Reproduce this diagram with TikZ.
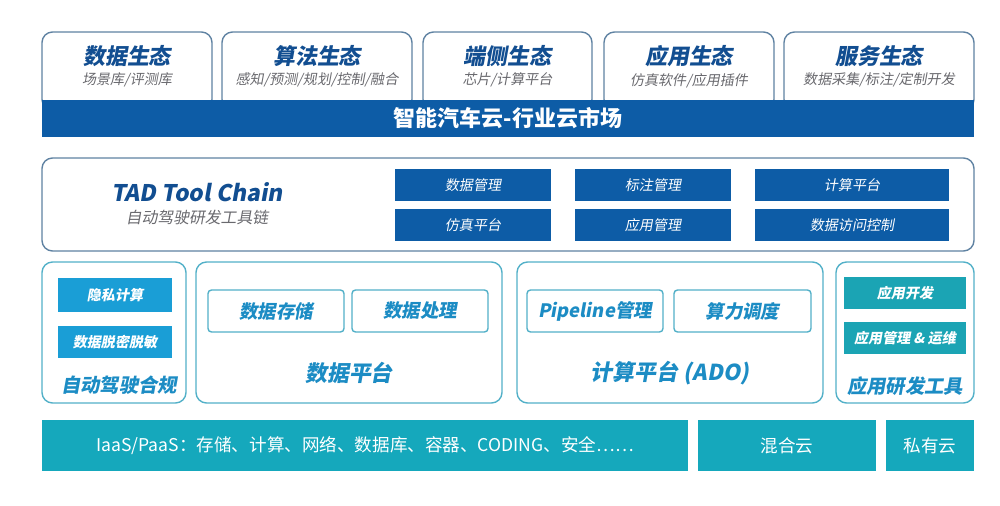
\documentclass[tikz,border=0pt]{standalone}
\usepackage{fontspec}
\setmainfont{Noto Sans CJK SC}
\newfontfamily\slantcjk{Noto Sans CJK SC}[FakeSlant=0.18]
\usepackage{xcolor}
\definecolor{navy}{RGB}{13,92,166}
\definecolor{titleblue}{RGB}{18,78,145}
\definecolor{subgray}{RGB}{105,105,110}
\definecolor{edgegray}{RGB}{95,130,162}
\definecolor{edgecyan}{RGB}{82,176,200}
\definecolor{labelcyan}{RGB}{28,140,196}
\definecolor{cyanbox}{RGB}{26,158,214}
\definecolor{tealbox}{RGB}{27,164,180}
\definecolor{basebar}{RGB}{21,168,188}
\usepackage{tikz}
\usetikzlibrary{positioning}

\begin{document}
\begin{tikzpicture}[
        eco/.style={rectangle, rounded corners=6pt, draw=edgegray, line width=0.8pt, fill=white, minimum height=1.56cm},
        ecotitle/.style={text=titleblue, font=\slantcjk\bfseries\fontsize{12.5}{14}\selectfont},
        ecosub/.style={text=subgray, font=\slantcjk\fontsize{8}{10}\selectfont},
        band/.style={rectangle, fill=navy, text=white, minimum height=0.74cm, font=\bfseries\fontsize{12.5}{14}\selectfont},
        panel/.style={rectangle, rounded corners=6pt, draw=edgegray, line width=0.8pt, fill=white},
        cell/.style={rectangle, fill=navy, text=white, minimum width=3.12cm, minimum height=0.64cm, font=\slantcjk\fontsize{8}{10}\selectfont},
        group/.style={rectangle, rounded corners=6pt, draw=edgecyan, line width=0.8pt, fill=white, minimum height=2.82cm},
        module/.style={rectangle, rounded corners=2pt, draw=edgecyan, line width=0.8pt, fill=white, text=labelcyan, minimum width=2.72cm, minimum height=0.84cm, font=\slantcjk\bfseries\fontsize{10.5}{12}\selectfont},
        chip/.style={rectangle, text=white, minimum height=0.64cm, font=\slantcjk\bfseries\fontsize{8}{10}\selectfont},
        grouplabel/.style={text=labelcyan, font=\slantcjk\bfseries\fontsize{11}{13}\selectfont},
        base/.style={rectangle, fill=basebar, text=white, minimum height=1.02cm, font=\fontsize{10}{12}\selectfont}
    ]
        \useasboundingbox (0,0) rectangle (20,-10.1);

        % ecosystem row
        \node[eco, minimum width=3.40cm] (dataeco) at (2.54,-1.42) {};
        \node[eco, minimum width=3.80cm] (algoeco) at (6.34,-1.42) {};
        \node[eco, minimum width=3.38cm] (edgeeco) at (10.15,-1.42) {};
        \node[eco, minimum width=3.40cm] (appeco) at (13.78,-1.42) {};
        \node[eco, minimum width=3.80cm] (serveco) at (17.58,-1.42) {};

        \node[ecotitle] (dataecot) at (2.54,-1.12) {数据生态};
        \node[ecosub, below=-0.12cm of dataecot] {场景库/评测库};
        \node[ecotitle] (algoecot) at (6.34,-1.12) {算法生态};
        \node[ecosub, below=-0.12cm of algoecot] {感知/预测/规划/控制/融合};
        \node[ecotitle] (edgeecot) at (10.15,-1.12) {端侧生态};
        \node[ecosub, below=-0.12cm of edgeecot] {芯片/计算平台};
        \node[ecotitle] (appecot) at (13.78,-1.12) {应用生态};
        \node[ecosub, below=-0.12cm of appecot] {仿真软件/应用插件};
        \node[ecotitle] (servecot) at (17.58,-1.12) {服务生态};
        \node[ecosub, below=-0.12cm of servecot] {数据采集/标注/定制开发};

        \node[band, minimum width=18.64cm] (market) at (10.16,-2.37) {智能汽车云-行业云市场};

        % tool chain
        \node[panel, minimum width=18.64cm, minimum height=1.86cm] (toolchain) at (10.16,-4.09) {};
        \node[text=titleblue, font=\slantcjk\bfseries\fontsize{13}{15}\selectfont] (tadname) at (3.94,-3.84) {TAD Tool Chain};
        \node[text=subgray, font=\slantcjk\fontsize{9}{11}\selectfont, below=-0.08cm of tadname] {自动驾驶研发工具链};

        \node[cell] (datamgmt) at (9.46,-3.70) {数据管理};
        \node[cell] (labelmgmt) at (13.06,-3.70) {标注管理};
        \node[cell, minimum width=3.88cm] (computeplat) at (17.04,-3.70) {计算平台};
        \node[cell] (simplat) at (9.46,-4.50) {仿真平台};
        \node[cell] (appmgmt) at (13.06,-4.50) {应用管理};
        \node[cell, minimum width=3.88cm] (access) at (17.04,-4.50) {数据访问控制};

        % platform row
        \node[group, minimum width=2.88cm] (comply) at (2.28,-6.65) {};
        \node[chip, fill=cyanbox, minimum width=2.28cm, minimum height=0.68cm] (privacy) at (2.30,-5.90) {隐私计算};
        \node[chip, fill=cyanbox, minimum width=2.28cm] (masking) at (2.30,-6.84) {数据脱密脱敏};
        \node[grouplabel] at (2.38,-7.70) {自动驾驶合规};

        \node[group, minimum width=6.12cm] (dataplat) at (6.98,-6.65) {};
        \node[module] (storage) at (5.52,-6.22) {数据存储};
        \node[module] (process) at (8.40,-6.22) {数据处理};
        \node[grouplabel, font=\slantcjk\bfseries\fontsize{12.5}{14}\selectfont] at (6.98,-7.46) {数据平台};

        \node[group, minimum width=6.12cm] (ado) at (13.40,-6.65) {};
        \node[module] (pipeline) at (11.90,-6.22) {Pipeline管理};
        \node[module, minimum width=2.74cm] (schedule) at (14.85,-6.22) {算力调度};
        \node[grouplabel, font=\slantcjk\bfseries\fontsize{12.5}{14}\selectfont] at (13.40,-7.46) {计算平台 (ADO)};

        \node[group, minimum width=2.76cm] (apptools) at (18.10,-6.65) {};
        \node[chip, fill=tealbox, minimum width=2.44cm] (appdev) at (18.10,-5.86) {应用开发};
        \node[chip, fill=tealbox, minimum width=2.44cm] (appops) at (18.10,-6.76) {应用管理 \& 运维};
        \node[grouplabel] at (18.10,-7.72) {应用研发工具};

        % infrastructure row
        \node[base, minimum width=12.92cm, font=\fontsize{10}{12}\selectfont] (iaas) at (7.30,-8.91) {IaaS/PaaS：存储、计算、网络、数据库、容器、CODING、安全……};
        \node[base, minimum width=3.56cm] (hybrid) at (15.74,-8.91) {混合云};
        \node[base, minimum width=1.76cm] (private) at (18.60,-8.91) {私有云};
    \end{tikzpicture}
\end{document}
